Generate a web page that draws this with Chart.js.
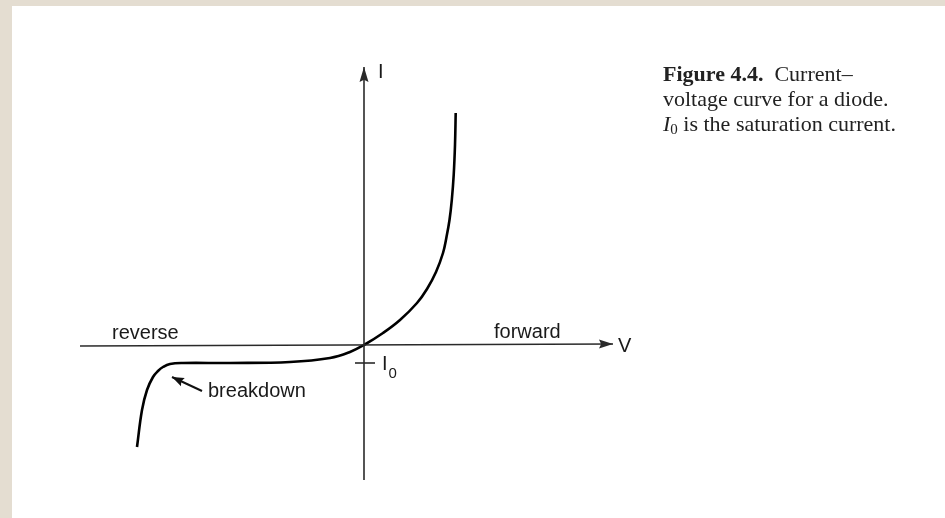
<!DOCTYPE html>
<html>
<head>
<meta charset="utf-8">
<script src="https://cdn.jsdelivr.net/npm/chart.js@4"></script>
<style>
  html, body { margin: 0; padding: 0; }
  body { width: 945px; height: 518px; background: #e4ddd1; position: relative; overflow: hidden; }
  #wrap { position: absolute; left: 12px; top: 6px; width: 933px; height: 512px; background: #fff; }
  #diodo { display: block; }
  .legenda {
    position: absolute; left: 651px; top: 55px;
    font-family: "Liberation Serif", "Times New Roman", serif;
    font-size: 22px; line-height: 25px; color: #222;
    white-space: nowrap;
  }
  .legenda sub { font-size: 15px; vertical-align: -3px; font-style: normal; }
</style>
</head>
<body>
<div id="wrap">
  <canvas id="diodo" width="933" height="512"></canvas>
  <div class="legenda">
    <b>Figure 4.4.</b>&nbsp; Current–<br>
    voltage curve for a diode.<br>
    <i>I</i><sub>0</sub> is the saturation current.
  </div>
</div>
<script>
// curva corrente x tensao (unidades arbitrarias)
var curvaV = [-2.27, -2.22, -2.17, -2.11, -2.06, -2.01, -1.94, -1.81, -1.34, -0.74, -0.34, -0.14, 0,
              0.19, 0.36, 0.53, 0.63, 0.72, 0.79, 0.825, 0.855, 0.878, 0.897, 0.91, 0.917]
var curvaI = [-1.02, -0.65, -0.45, -0.32, -0.26, -0.22, -0.19, -0.18, -0.18, -0.17, -0.13, -0.07, 0,
              0.12, 0.25, 0.42, 0.56, 0.73, 0.92, 1.08, 1.25, 1.45, 1.70, 2.00, 2.32]

// eixos
var eixoV = [-2.84, 2.49]
var eixoVcorrente = [-0.01, 0.01]
var eixoI = [-1.35, 2.78]

// corrente de saturacao
var I0 = -0.18
var marcaI0 = [-0.09, 0.11]

// seta do "breakdown"
var setaV = [-1.62, -1.92]
var setaI = [-0.46, -0.32]

function pontos(xs, ys) {
    return xs.map(function (x, i) { return { x: x, y: ys[i] } })
}

// textos desenhados em coordenadas de dados
var textos = [
    { t: 'I', v: 0.14, i: 2.67 },
    { t: 'V', v: 2.54, i: -0.07 },
    { t: 'reverse', v: -2.52, i: 0.06 },
    { t: 'forward', v: 1.30, i: 0.07 },
    { t: 'breakdown', v: -1.56, i: -0.52 },
    { t: 'I', v: 0.18, i: -0.25, sub: '0' }
]

var setas = {
    id: 'setas',
    afterDatasetsDraw(chart) {
        var ctx = chart.ctx
        chart.data.datasets.forEach(function (ds, k) {
            if (!ds.seta) return
            var pts = chart.getDatasetMeta(k).data
            var a = pts[pts.length - 2], b = pts[pts.length - 1]
            var ang = Math.atan2(b.y - a.y, b.x - a.x)
            var L = ds.seta[0], W = ds.seta[1]
            ctx.save()
            ctx.translate(b.x, b.y)
            ctx.rotate(ang)
            ctx.beginPath()
            ctx.moveTo(0, 0)
            ctx.lineTo(-L, -W)
            ctx.lineTo(-L * 0.85, 0)
            ctx.lineTo(-L, W)
            ctx.closePath()
            ctx.fillStyle = ds.borderColor
            ctx.fill()
            ctx.restore()
        })
    }
}

var rotulos = {
    id: 'rotulos',
    afterDraw(chart) {
        var ctx = chart.ctx
        var sx = chart.scales.x, sy = chart.scales.y
        ctx.save()
        ctx.fillStyle = '#1a1a1a'
        ctx.textBaseline = 'alphabetic'
        ctx.textAlign = 'left'
        textos.forEach(function (r) {
            var x = sx.getPixelForValue(r.v), y = sy.getPixelForValue(r.i)
            ctx.font = '20px "Liberation Sans", Arial, sans-serif'
            ctx.fillText(r.t, x, y)
            if (r.sub) {
                var w = ctx.measureText(r.t).width
                ctx.font = '15px "Liberation Sans", Arial, sans-serif'
                ctx.fillText(r.sub, x + w + 1, y + 8)
            }
        })
        ctx.restore()
    }
}

new Chart(document.querySelector('#diodo'), {
    type: 'scatter',
    data: {
        datasets: [
            {
                data: pontos(eixoV, eixoVcorrente),
                showLine: true, borderColor: '#2a2a2a', borderWidth: 1.6,
                pointRadius: 0, seta: [14, 4.5]
            },
            {
                data: pontos([0, 0], eixoI),
                showLine: true, borderColor: '#2a2a2a', borderWidth: 1.6,
                pointRadius: 0, seta: [15, 4.5]
            },
            {
                data: pontos(marcaI0, [I0, I0]),
                showLine: true, borderColor: '#2a2a2a', borderWidth: 1.6,
                pointRadius: 0
            },
            {
                data: pontos(setaV, setaI),
                showLine: true, borderColor: '#111', borderWidth: 2,
                pointRadius: 0, seta: [12, 4.5]
            },
            {
                data: pontos(curvaV, curvaI),
                showLine: true, borderColor: '#000', borderWidth: 2.6,
                pointRadius: 0, tension: 0.4
            }
        ]
    },
    options: {
        responsive: false,
        animation: false,
        layout: { padding: 0 },
        plugins: {
            legend: { display: false },
            tooltip: { enabled: false }
        },
        scales: {
            x: { type: 'linear', display: false, min: -3.52, max: 5.81 },
            y: { type: 'linear', display: false, min: -1.73, max: 3.39 }
        }
    },
    plugins: [setas, rotulos]
})
</script>
</body>
</html>
